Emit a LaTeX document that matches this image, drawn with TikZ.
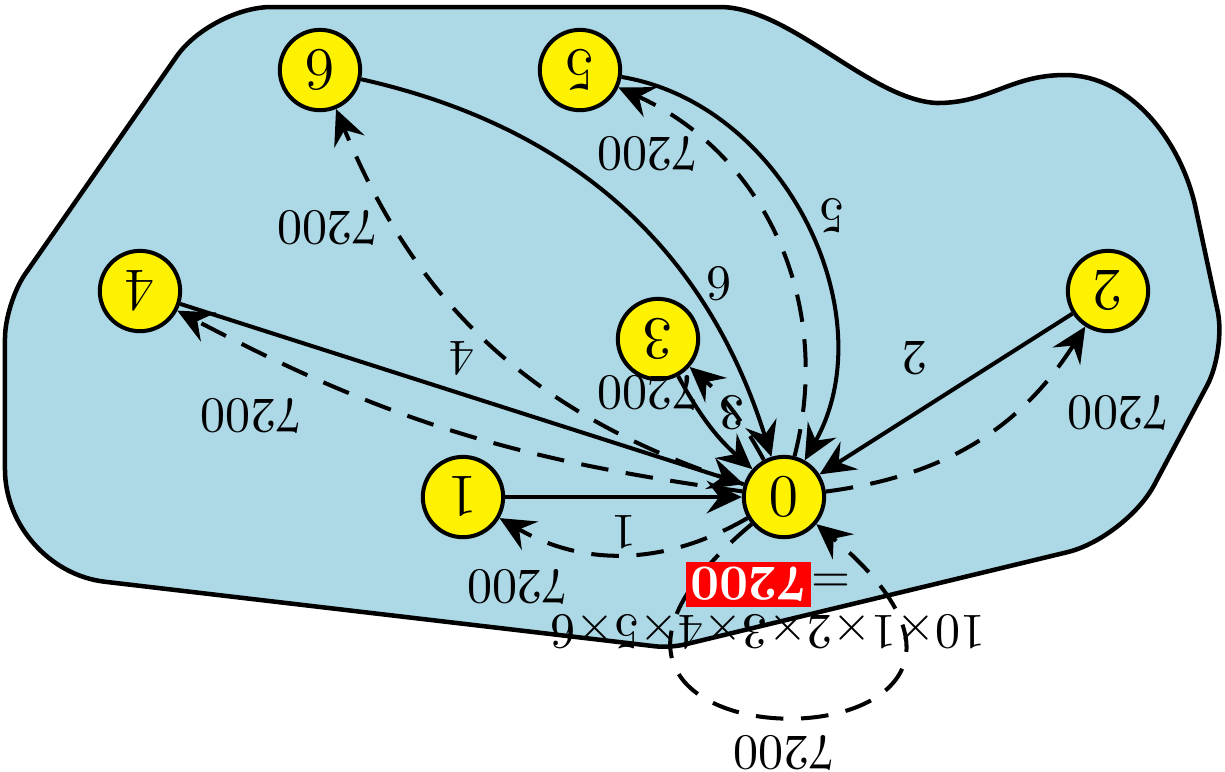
\documentclass[tikz,border=0pt]{standalone}
\usepackage{xcolor}
\usepackage{tikz}
\usetikzlibrary{arrows.meta, positioning}

\definecolor{poolblue}{HTML}{ADD8E6}

\begin{document}
\begin{tikzpicture}[
  x=0.7cm, y=0.7cm,
  rotate=180, transform shape,
  vert/.style={circle, draw, thick, fill=yellow, font=\large,
               minimum size=16pt, inner sep=0pt},
  region/.style={draw, line width=0.9pt, fill=poolblue},
  fwd/.style={-{Stealth[length=7pt, width=6.5pt, inset=2.5pt]}, thick},
  bwd/.style={fwd, dash pattern=on 5.5pt off 3.5pt},
]
  \useasboundingbox (0,0) rectangle (12.25,7.71);

  % Region
  \draw[region] (5.05,0.07) .. controls (4.35,0.07) and (3.55,1.00) .. (2.88,1.03)
    .. controls (2.35,1.03) and (2.15,0.75) .. (1.60,0.75)
    .. controls (0.95,0.75) and (0.45,1.40) .. (0.30,2.05)
    [rounded corners=8pt] -- (-0.01,3.50)
    [rounded corners=12pt] -- (0.99,5.38)
    [rounded corners=3pt] -- (5.55,6.48)
    [rounded corners=20pt] -- (12.20,5.70)
    [rounded corners=7pt] -- (12.20,3.03)
    [rounded corners=12pt] -- (10.14,0.07)
    [sharp corners] -- cycle;

  % Vertices
  \node[vert] (n0) at (4.41,4.97) {0};
  \node[vert] (n1) at (7.62,4.97) {1};
  \node[vert] (n2) at (1.17,2.91) {2};
  \node[vert] (n3) at (5.67,3.39) {3};
  \node[vert] (n4) at (10.85,2.91) {4};
  \node[vert] (n5) at (6.45,0.70) {5};
  \node[vert] (n6) at (9.05,0.70) {6};

  % Costs into 0
  \draw[fwd] (n1) -- node[above] {1} (n0);
  \draw[fwd] (n2) -- node[below right] {2} (n0);
  \draw[fwd] (n3) to[bend right=10] node[left, pos=0.35] {3} (n0);
  \draw[fwd] (n4) -- node[below] {4} (n0);
  \draw[fwd] (n5) to[bend left=55] node[left, pos=0.48] {5} (n0);
  \draw[fwd] (n6) to[bend left=30] node[left, pos=0.68] {6} (n0);

  % Returns out of 0
  \draw[bwd] (n0) to[bend left=30] node[above right, pos=0.65] {7200} (n1);
  \draw[bwd] (n0) to[bend right=25] node[above left, pos=0.82] {7200} (n2);
  \draw[bwd] (n0) to[bend right=10] node[right, pos=0.7] {7200} (n3);
  \draw[bwd] (n0) to[bend left=10] node[above right, pos=0.75] {7200} (n4);
  \draw[bwd] (n0) to[bend right=40] node[right, pos=0.74] {7200} (n5);
  \draw[bwd] (n0) to[bend left=25] node[right, pos=0.78] {7200} (n6);
  \draw[bwd] (n0) to[out=40, in=140, min distance=28mm] node[above] {7200} (n0);

  % Product
  \node[align=center, inner sep=0pt] (prod) at (4.57,6.05)
    {$10{\times}1{\times}2{\times}3{\times}4{\times}5{\times}6$\\[-2.4pt]
     ={\setlength{\fboxsep}{1pt}\colorbox{red}{\textcolor{white}{\textbf{7200}}}}};
\end{tikzpicture}
\end{document}
